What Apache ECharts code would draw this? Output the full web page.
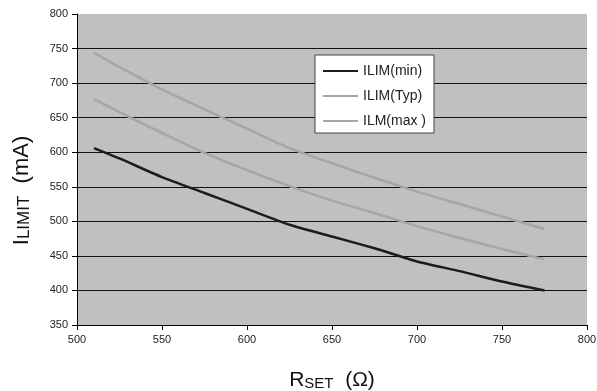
<!DOCTYPE html>
<html>
<head>
<meta charset="utf-8">
<script src="https://cdn.jsdelivr.net/npm/echarts@6/dist/echarts.min.js"></script>
<style>
html, body { margin: 0; padding: 0; background: #fff; }
#chart { width: 597px; height: 391px; }
</style>
</head>
<body>
<div id="chart"></div>
<script>
// RSET (ohm) sample points
var rset = [510, 525, 550, 575, 600, 625, 650, 675, 700, 725, 750, 775];
// ILIMIT (mA)
var ilimMin = [606, 591, 564, 541, 518, 495, 478, 461, 442, 428, 413, 400];
var ilimTyp = [677, 658, 628, 599, 574, 551, 530, 512, 493, 476, 460, 445];
var ilimMax = [744, 723, 691, 662, 634, 606, 584, 563, 543, 525, 507, 489];
var seriesNames = ['ILIM(min)', 'ILIM(Typ)', 'ILM(max )'];

function pairs(ys) {
	var out = [];
	for (var i = 0; i < rset.length; i++) {
		out.push([rset[i], ys[i]]);
	}
	return out;
}

var font = '"Liberation Sans", Arial, sans-serif';
// no dark line at the top (800) edge
var gridColors = ['#111', '#111', '#111', '#111', '#111', '#111', '#111', '#111', '#111', 'rgba(0,0,0,0)'];

var myChart = echarts.init(document.getElementById('chart'));
var option = {
	animation: false,
	grid: {
		left: 77,
		right: 10,
		top: 14,
		bottom: 66,
		outerBoundsMode: 'none',
		show: true,
		backgroundColor: '#c0c0c0',
		borderWidth: 0
	},
	legend: {
		data: seriesNames,
		orient: 'vertical',
		left: 315,
		top: 55,
		itemWidth: 35,
		itemHeight: 14,
		itemGap: 11,
		padding: [9, 8, 5, 7],
		backgroundColor: '#fff',
		borderColor: '#444',
		borderWidth: 1,
		borderRadius: 0,
		// only the line in the legend key, no marker
		itemStyle: { opacity: 0 },
		textStyle: {
			fontFamily: font,
			fontSize: 14,
			color: '#222'
		}
	},
	xAxis: {
		type: 'value',
		min: 500,
		max: 800,
		interval: 50,
		name: '{a|R}{b|SET}{a|  (Ω)}',
		nameLocation: 'middle',
		nameGap: 42,
		nameTextStyle: {
			rich: {
				a: { fontFamily: font, fontSize: 21, color: '#111', lineHeight: 24, verticalAlign: 'bottom' },
				b: { fontFamily: font, fontSize: 15, color: '#111', lineHeight: 11, verticalAlign: 'bottom' }
			}
		},
		axisLine: { show: true, lineStyle: { color: '#000', width: 1 } },
		axisTick: { show: true, length: 5, lineStyle: { color: '#000' } },
		axisLabel: { fontFamily: font, fontSize: 11, color: '#222', margin: 9 },
		splitLine: { show: false }
	},
	yAxis: {
		type: 'value',
		min: 350,
		max: 800,
		interval: 50,
		name: '{a|I}{b|LIMIT}{a|  (mA)}',
		nameLocation: 'middle',
		nameRotate: 90,
		nameGap: 44,
		nameTextStyle: {
			padding: [0, 42, 0, 0],
			rich: {
				a: { fontFamily: font, fontSize: 22, color: '#111', lineHeight: 25, verticalAlign: 'bottom' },
				b: { fontFamily: font, fontSize: 17, color: '#111', lineHeight: 12, verticalAlign: 'bottom' }
			}
		},
		axisLine: { show: true, lineStyle: { color: '#000', width: 1 } },
		axisTick: { show: true, length: 5, lineStyle: { color: '#000' } },
		axisLabel: { fontFamily: font, fontSize: 11, color: '#222', margin: 9 },
		splitLine: { show: true, lineStyle: { color: gridColors, width: 1 } }
	},
	series: [
		{
			name: seriesNames[0],
			type: 'line',
			data: pairs(ilimMin),
			smooth: 0.2,
			symbol: 'none',
			lineStyle: { color: '#1c1c1c', width: 2.5 },
			itemStyle: { color: '#1c1c1c' }
		},
		{
			name: seriesNames[1],
			type: 'line',
			data: pairs(ilimTyp),
			smooth: 0.2,
			symbol: 'none',
			lineStyle: { color: '#a6a6a6', width: 2.5 },
			itemStyle: { color: '#a6a6a6' }
		},
		{
			name: seriesNames[2],
			type: 'line',
			data: pairs(ilimMax),
			smooth: 0.2,
			symbol: 'none',
			lineStyle: { color: '#a6a6a6', width: 2.5 },
			itemStyle: { color: '#a6a6a6' }
		}
	]
};
myChart.setOption(option);
</script>
</body>
</html>
